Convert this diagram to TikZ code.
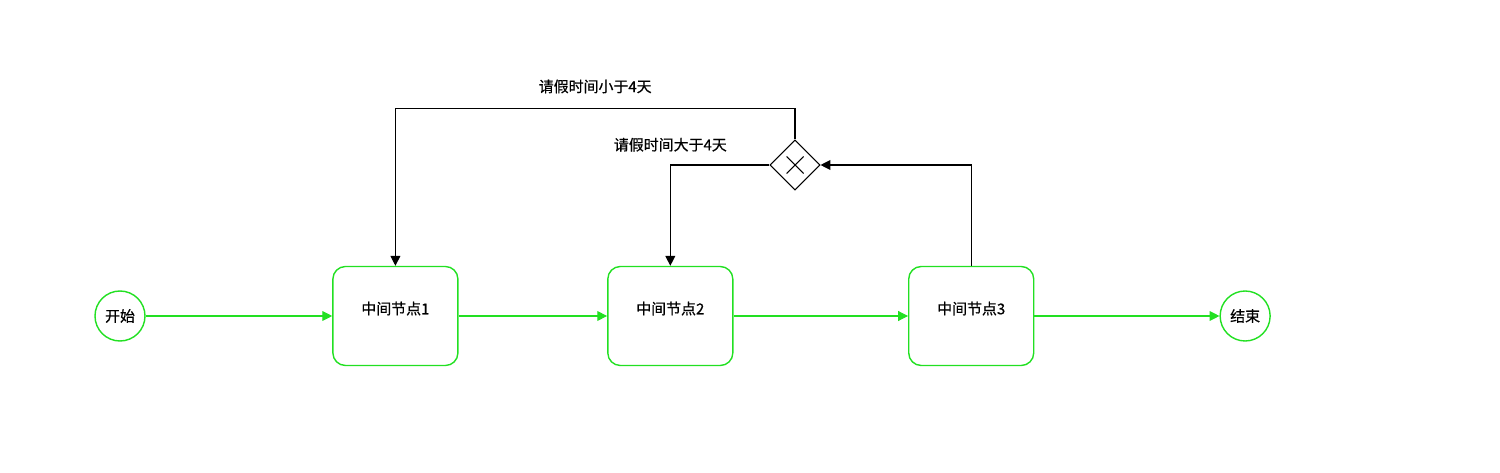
\documentclass[tikz,border=0pt]{standalone}
\usepackage{fontspec}
\usepackage{xcolor}
\newfontfamily\cjk[FakeBold=0.6]{Noto Sans CJK SC}
\usetikzlibrary{arrows.meta, positioning, shapes.geometric}
\definecolor{flowgreen}{HTML}{22E022}

\begin{document}
\begin{tikzpicture}[node distance=2.97cm, font=\cjk\fontsize{8.5}{10}\selectfont]
        \useasboundingbox (0,0) rectangle (30,9.44);
        \tikzset{
            event/.style={circle, draw=flowgreen, line width=0.8pt, minimum size=1cm, inner sep=0pt},
            task/.style={rectangle, rounded corners=0.25cm, draw=flowgreen, line width=0.8pt,
                minimum width=2.5cm, minimum height=1.98cm, text depth=0.32cm},
            flow/.style={draw=flowgreen, line width=0.6pt, -{Triangle[length=5.6pt,width=5.6pt]}},
            back/.style={draw=black, line width=0.6pt, -{Triangle[length=5.6pt,width=5.6pt]}}
        }
        \node[event] (start) at (2.4,3.12) {开始};
        \node[task, right=3.73cm of start] (T1) {中间节点1};
        \node[task, right=of T1] (T2) {中间节点2};
        \node[task, right=3.49cm of T2] (T3) {中间节点3};
        \node[event, right=3.70cm of T3] (end) {结束};
        \node[diamond, draw, line width=0.6pt, minimum width=1cm, minimum height=1cm, inner sep=0pt,
            path picture={
                \draw[line width=0.6pt] (path picture bounding box.center) ++(-0.17,-0.17) -- ++(0.34,0.34);
                \draw[line width=0.6pt] (path picture bounding box.center) ++(-0.17,0.17) -- ++(0.34,-0.34);
            }] (gw) at (15.9,6.14) {};
        \draw[flow] (start) -- (T1);
        \draw[flow] (T1) -- (T2);
        \draw[flow] (T2) -- (T3);
        \draw[flow] (T3) -- (end);
        \draw[back] (T3.north) |- (gw.east);
        \draw[back] (gw.north) -- ++(0,0.62) -| node[pos=0.25, above=5pt] {请假时间小于4天} (T1.north);
        \draw[back] (gw.west) -| node[pos=0.5, above=4pt] {请假时间大于4天} (T2.north);
    \end{tikzpicture}
\end{document}
